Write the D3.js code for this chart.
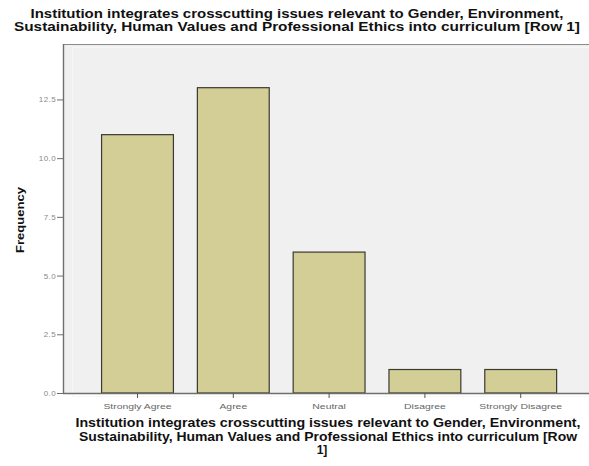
<!DOCTYPE html>
<html>
<head>
<meta charset="utf-8">
<script src="https://cdn.jsdelivr.net/npm/d3@7"></script>
<style>
  html, body { margin: 0; padding: 0; background: #ffffff; }
  svg { display: block; }
</style>
</head>
<body>
<svg id="chart" width="589" height="466"></svg>
<script>
// Response categories and their frequencies
const categories = ["Strongly Agree", "Agree", "Neutral", "Disagree", "Strongly Disagree"];
const frequencies = [11, 13, 6, 1, 1];
const yTicks = [0, 2.5, 5, 7.5, 10, 12.5];
const yMax = 14.86;

const titleLines = [
  "Institution integrates crosscutting issues relevant to Gender, Environment,",
  "Sustainability, Human Values and Professional Ethics into curriculum [Row 1]"
];
const xTitleLines = [
  "Institution integrates crosscutting issues relevant to Gender, Environment,",
  "Sustainability, Human Values and Professional Ethics into curriculum [Row",
  "1]"
];
const yTitle = "Frequency";

const svg = d3.select("#chart");
const frame = { left: 63, right: 589, top: 44, bottom: 393 };
const FONT = "Liberation Sans, Arial, sans-serif";

const x = d3.scaleBand()
  .domain(categories)
  .range([89.6, 568.6])
  .paddingInner(0.25)
  .paddingOuter(0.125);

const y = d3.scaleLinear()
  .domain([0, yMax])
  .range([frame.bottom, frame.top]);

// plot background
svg.append("rect")
  .attr("x", frame.left).attr("y", frame.top)
  .attr("width", frame.right - frame.left)
  .attr("height", frame.bottom - frame.top)
  .attr("fill", "#f0f0f0");

// faint inner frame
svg.append("rect")
  .attr("x", frame.left + 9.5).attr("y", frame.top + 3.5)
  .attr("width", frame.right - frame.left)
  .attr("height", frame.bottom - frame.top)
  .attr("fill", "none")
  .attr("stroke", "#f7f7f7")
  .attr("stroke-width", 1);

// top border
svg.append("line")
  .attr("x1", frame.left).attr("x2", frame.right)
  .attr("y1", frame.top + 0.5).attr("y2", frame.top + 0.5)
  .attr("stroke", "#8a8a8a").attr("stroke-width", 1.2);

// bars
svg.append("g").selectAll("rect")
  .data(categories)
  .join("rect")
  .attr("x", d => x(d))
  .attr("y", (d, i) => y(frequencies[i]))
  .attr("width", x.bandwidth())
  .attr("height", (d, i) => y(0) - y(frequencies[i]))
  .attr("fill", "#d3cd96")
  .attr("stroke", "#3a3a32")
  .attr("stroke-width", 1.2);

// y axis
const yAxis = svg.append("g")
  .attr("transform", `translate(${frame.left},0)`)
  .call(d3.axisLeft(y).tickValues(yTicks).tickFormat(d3.format(".1f")).tickSize(6).tickSizeOuter(0));
yAxis.select(".domain").attr("stroke", "#6e6e6e").attr("stroke-width", 1.4)
  .attr("d", `M0.5,${frame.top}V${frame.bottom}`);
yAxis.selectAll(".tick line").attr("stroke", "#6e6e6e");
yAxis.selectAll(".tick text")
  .attr("x", -7)
  .attr("fill", "#888")
  .style("font-family", FONT)
  .style("font-size", "8px")
  .style("letter-spacing", "0.4px");

// x axis
const xAxis = svg.append("g")
  .attr("transform", `translate(0,${frame.bottom})`)
  .call(d3.axisBottom(x).tickSize(5).tickSizeOuter(0));
xAxis.select(".domain").attr("stroke", "#6e6e6e").attr("stroke-width", 1.4)
  .attr("d", `M${frame.left},0.5H${frame.right}`);
xAxis.selectAll(".tick line").attr("stroke", "#555");
xAxis.selectAll(".tick text")
  .attr("y", 10)
  .attr("fill", "#666")
  .style("font-family", FONT)
  .style("font-size", "8px")
  .each(function () {
    const w = this.getComputedTextLength();
    d3.select(this).attr("textLength", w * 1.3).attr("lengthAdjust", "spacingAndGlyphs");
  });

// A bold text line stretched to a given width
function stretchedLine(t, cx, cy, size, width) {
  const s = svg.append("text")
    .attr("x", cx).attr("y", cy)
    .attr("text-anchor", "middle")
    .attr("font-family", FONT)
    .attr("font-weight", "bold")
    .attr("font-size", size + "px")
    .attr("fill", "#111")
    .text(t);
  if (width) s.attr("textLength", width).attr("lengthAdjust", "spacingAndGlyphs");
  return s;
}

// chart title
const titleWidths = [533, 566];
titleLines.forEach((t, i) => stretchedLine(t, 297, 18 + i * 13, 12, titleWidths[i]));

// x axis title
const xTitleWidths = [505, 498, null];
xTitleLines.forEach((t, i) =>
  stretchedLine(t, i === 2 ? 322 : 328, 427 + i * 13.5, 12, xTitleWidths[i]));

// y axis title
svg.append("text")
  .attr("transform", "translate(24,220) rotate(-90)")
  .attr("text-anchor", "middle")
  .attr("font-family", FONT)
  .attr("font-weight", "bold")
  .attr("font-size", "11px")
  .attr("textLength", 66)
  .attr("lengthAdjust", "spacingAndGlyphs")
  .attr("fill", "#111")
  .text(yTitle);
</script>
</body>
</html>
